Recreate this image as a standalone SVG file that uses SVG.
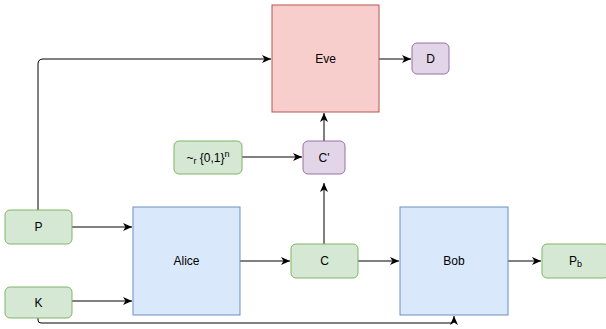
<svg xmlns="http://www.w3.org/2000/svg" width="606" height="329" viewBox="0 0 606 329">
  <style>
    .lbl { font-family: "Liberation Sans", Arial, sans-serif; font-size: 12px; fill: #000; text-anchor: middle; dominant-baseline: central; }
    .green { fill: #d5e8d4; stroke: #82b366; stroke-width: 1; }
    .blue { fill: #dae8fc; stroke: #6c8ebf; stroke-width: 1; }
    .red { fill: #f8cecc; stroke: #b85450; stroke-width: 1; }
    .purple { fill: #e1d5e7; stroke: #9673a6; stroke-width: 1; }
    .edge { fill: none; stroke: #000; stroke-width: 1; marker-end: url(#arrow); }
  </style>
  <defs>
    <marker id="arrow" markerUnits="userSpaceOnUse" markerWidth="10" markerHeight="8" refX="9" refY="4" orient="auto">
      <path d="M0,0 L9,4 L0,8 L2.5,4 Z" fill="#000"/>
    </marker>
  </defs>
  <rect width="606" height="329" fill="#fff"/>

  <!-- connectors -->
  <g id="edges">
    <path class="edge" d="M38,210 V64 Q38,59 43,59 H271"/>
    <path class="edge" d="M379,59 H411"/>
    <path class="edge" d="M324,141 V113"/>
    <path class="edge" d="M242,157 H302"/>
    <path class="edge" d="M324,244 V183"/>
    <path class="edge" d="M72,227 H132"/>
    <path class="edge" d="M72,301 H132"/>
    <path class="edge" d="M240,261 H290"/>
    <path class="edge" d="M358,261 H399"/>
    <path class="edge" d="M508,261 H541"/>
    <path class="edge" d="M38,318 V320 Q38,323 41,323 H451 Q454,323 454,320 V316"/>
  </g>

  <!-- nodes -->
  <g id="eve">
    <rect class="red" x="272" y="5" width="107" height="107"/>
    <text class="lbl" x="325.5" y="58.5">Eve</text>
  </g>
  <g id="d">
    <rect class="purple" x="412" y="43" width="37" height="31" rx="5"/>
    <text class="lbl" x="430.5" y="58.5">D</text>
  </g>
  <g id="random">
    <rect class="green" x="174" y="141" width="68" height="33" rx="5"/>
    <text class="lbl" x="208" y="157.5">~<tspan font-size="9" dy="3">r</tspan><tspan dy="-3"> {0,1}</tspan><tspan font-size="9" dy="-4">n</tspan></text>
  </g>
  <g id="c-prime">
    <rect class="purple" x="303" y="141" width="42" height="33" rx="5"/>
    <text class="lbl" x="324" y="157.5">C'</text>
  </g>
  <g id="p">
    <rect class="green" x="5" y="210" width="67" height="34" rx="5"/>
    <text class="lbl" x="38.5" y="227">P</text>
  </g>
  <g id="k">
    <rect class="green" x="5" y="287" width="67" height="31" rx="5"/>
    <text class="lbl" x="38.5" y="302.5">K</text>
  </g>
  <g id="alice">
    <rect class="blue" x="133" y="207" width="107" height="108"/>
    <text class="lbl" x="186.5" y="261">Alice</text>
  </g>
  <g id="c">
    <rect class="green" x="291" y="244" width="67" height="34" rx="5"/>
    <text class="lbl" x="324.5" y="261">C</text>
  </g>
  <g id="bob">
    <rect class="blue" x="400" y="207" width="108" height="108"/>
    <text class="lbl" x="454" y="261">Bob</text>
  </g>
  <g id="pb">
    <rect class="green" x="542" y="244" width="67" height="34" rx="5"/>
    <text class="lbl" x="575.5" y="261">P<tspan font-size="9" dy="3">b</tspan></text>
  </g>
</svg>
